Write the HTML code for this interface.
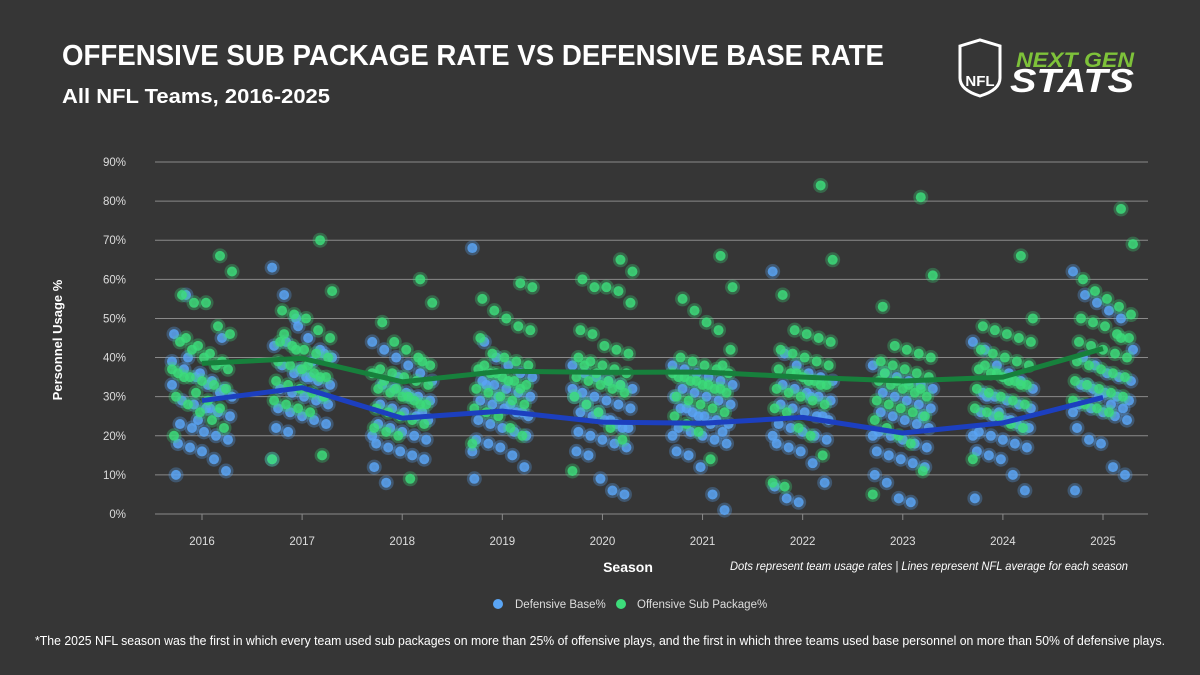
<!DOCTYPE html>
<html><head><meta charset="utf-8"><style>
html,body{margin:0;padding:0;background:#363636;}
svg{display:block;font-family:"Liberation Sans",sans-serif;}
</style></head><body>
<svg id="chart" width="1200" height="675" viewBox="0 0 1200 675">
<rect width="1200" height="675" fill="#363636"/>
<text x="62" y="65" fill="#fff" font-size="29" font-weight="bold" textLength="822" lengthAdjust="spacingAndGlyphs">OFFENSIVE SUB PACKAGE RATE VS DEFENSIVE BASE RATE</text>
<text x="62" y="103" fill="#fff" font-size="20" font-weight="bold" textLength="268" lengthAdjust="spacingAndGlyphs">All NFL Teams, 2016-2025</text>
<g>
<path d="M960 46 L980 40 L1000 46 L1000 78 Q1000 90 980 96 Q960 90 960 78 Z" fill="none" stroke="#fff" stroke-width="3"/>
<text x="980" y="86" fill="#fff" font-size="15" font-weight="bold" text-anchor="middle">NFL</text>
<text x="1016" y="67" fill="#7ec23a" font-size="21" font-weight="bold" font-style="italic" textLength="118" lengthAdjust="spacingAndGlyphs">NEXT GEN</text>
<text x="1010" y="92" fill="#fff" font-size="33" font-weight="bold" font-style="italic" textLength="124" lengthAdjust="spacingAndGlyphs">STATS</text>
</g>
<g id="grid"></g><g id="dots"></g><g id="lines"></g>
<text transform="translate(62,340) rotate(-90)" fill="#fff" font-size="13" font-weight="bold" text-anchor="middle">Personnel Usage %</text>
<text x="628" y="572" fill="#fff" font-size="14" font-weight="bold" text-anchor="middle">Season</text>
<text x="1128" y="570" fill="#fff" font-size="11.5" font-style="italic" text-anchor="end" textLength="398" lengthAdjust="spacingAndGlyphs">Dots represent team usage rates | Lines represent NFL average for each season</text>
<g><circle cx="498" cy="604" r="5" fill="#5aa5f5"/><text x="515" y="608" fill="#ddd" font-size="11.5">Defensive Base%</text></g>
<g><circle cx="621" cy="604" r="5" fill="#3ddc7a"/><text x="637" y="608" fill="#ddd" font-size="11.5">Offensive Sub Package%</text></g>
<text x="600" y="645" fill="#fff" font-size="12.5" text-anchor="middle" textLength="1130" lengthAdjust="spacingAndGlyphs">*The 2025 NFL season was the first in which every team used sub packages on more than 25% of offensive plays, and the first in which three teams used base personnel on more than 50% of defensive plays.</text>
</svg>
<script>
const seasons=[2016,2017,2018,2019,2020,2021,2022,2023,2024,2025];
const yTicks=[0,10,20,30,40,50,60,70,80,90];
const baseAvg=[29,32.3,24.5,26.3,23.5,23.2,24.7,20.7,23.3,29.8];
const subAvg=[38.5,39.8,33.8,36.5,36.2,36.3,35.0,34.0,35.0,42.3];
const baseTeams=[
[39,37,35,33,31,30,29,28,27,26,25,23,22,21,20,19,18,17,16,14,11,10,40,36,34,32,46,56,24,27,45,33],
[63,56,50,45,42,40,38,36,35,34,33,32,31,30,29,28,27,26,25,24,23,22,21,37,39,41,43,44,48,35,30,14],
[44,42,40,38,36,34,33,32,31,30,29,28,27,26,25,24,23,22,21,20,19,18,17,16,15,14,12,8,35,30,26,20],
[68,44,40,38,36,35,34,33,32,31,30,29,28,27,26,25,24,23,22,21,20,19,18,17,15,12,9,33,30,28,26,16],
[38,36,35,34,33,32,31,30,29,28,27,26,25,24,23,22,21,20,19,18,17,16,15,9,6,5,30,28,26,24,22,32],
[38,37,36,35,34,33,32,31,30,29,28,27,26,25,24,23,22,21,20,19,18,16,15,12,5,1,30,27,25,23,21,20],
[62,41,38,36,35,34,33,32,31,30,29,28,27,26,25,24,23,22,21,20,19,18,17,16,13,8,7,4,3,30,25,20],
[38,36,35,34,33,32,31,30,29,28,27,26,25,24,23,22,21,20,19,18,17,16,15,14,13,12,10,8,4,3,25,20],
[44,42,38,36,34,32,31,30,29,28,27,26,25,24,23,22,21,20,19,18,17,16,15,14,10,6,4,30,26,24,22,20],
[62,56,54,52,50,42,40,38,36,35,34,33,32,31,30,29,28,27,26,25,24,22,19,18,12,10,6,33,30,28,27,26]];
const subTeams=[
[66,62,56,54,54,48,46,44,42,40,38,37,36,35,34,33,32,30,28,26,24,22,20,45,43,41,39,37,35,31,29,27],
[70,57,52,51,50,47,45,44,43,42,41,40,39,38,37,36,35,34,33,32,31,30,29,28,27,26,15,14,46,42,38,35],
[60,54,49,44,42,40,38,37,36,35,34,33,32,31,30,29,28,27,26,25,24,23,22,21,20,9,39,36,34,32,30,28],
[59,58,55,52,50,48,47,45,41,40,39,38,37,36,35,34,33,32,31,30,29,28,27,26,25,22,20,18,38,36,34,32],
[65,62,60,58,58,57,54,47,46,43,42,41,40,39,38,37,36,35,34,33,32,31,30,28,26,22,19,11,38,36,34,33],
[66,58,55,52,49,47,42,40,39,38,37,36,35,34,33,32,31,30,29,28,27,26,25,23,21,14,38,36,35,34,33,32],
[84,65,56,47,46,45,44,42,41,40,39,38,37,36,35,34,33,32,31,30,29,28,27,26,22,20,15,8,7,36,34,33],
[81,61,53,43,42,41,40,39,38,37,36,35,34,33,32,31,30,29,28,27,26,25,24,22,20,18,11,5,36,34,33,32],
[66,50,48,47,46,45,44,42,41,40,39,38,37,36,35,34,33,32,31,30,29,28,27,26,25,23,22,14,38,36,34,33],
[78,69,60,57,55,53,51,50,49,48,46,45,44,43,42,41,40,39,38,37,36,35,34,33,32,31,30,29,28,27,26,45]];
const NS="http://www.w3.org/2000/svg";
const x0=155,x1=1148,y0=514,y90=162;
function xS(i){return 202+i*(1103-202)/9;}
function yS(v){return y0-(v/90)*(y0-y90);}
function mk(t,a,p){const e=document.createElementNS(NS,t);for(const k in a)e.setAttribute(k,a[k]);p.appendChild(e);return e;}
const grid=document.getElementById('grid');
yTicks.forEach(t=>{
 const l=mk('line',{x1:x0,x2:x1,y1:yS(t),y2:yS(t),stroke:'#8a8a8a','stroke-width':1},grid);
 
 
 const tx=mk('text',{x:126,y:yS(t)+4,fill:'#ddd','font-size':11.5,'text-anchor':'end'},grid);
 tx.textContent=t+'%';
 
 
});
seasons.forEach((s,i)=>{
 const l=mk('line',{x1:xS(i),x2:xS(i),y1:y0,y2:y0+6,stroke:'#8a8a8a'},grid);
 
 
 const tx=mk('text',{x:xS(i),y:545,fill:'#ddd','font-size':11.5,'text-anchor':'middle'},grid);
 tx.textContent=s;
 
 
});
const dots=document.getElementById('dots');
function jit(j,k){return (((j*37+k*11)%31)-15)*2.0;}
function drawDots(arr,fill,halo,name,k){
 arr.forEach((vals,i)=>vals.forEach((v,j)=>{
  const c=mk('circle',{cx:xS(i)+jit(j,k),cy:yS(v),r:5,fill:fill,stroke:halo,'stroke-width':5,'stroke-opacity':0.3,'fill-opacity':0.85},dots);
  
  
 }));
}
drawDots(baseTeams,'#5aa5f5','#5aa5f5','defensive-base-dot',0);
drawDots(subTeams,'#3ddc7a','#3ddc7a','offensive-sub-dot',5);
const lines=document.getElementById('lines');
function drawLine(arr,col,name){
 const p=mk('polyline',{points:arr.map((v,i)=>xS(i)+','+yS(v)).join(' '),fill:'none',stroke:col,'stroke-width':5,'stroke-linejoin':'round'},lines);
 
 
}
drawLine(subAvg,'#17803c','offensive-sub-average-line');
drawLine(baseAvg,'#1c3fbf','defensive-base-average-line');
</script>
</body></html>
